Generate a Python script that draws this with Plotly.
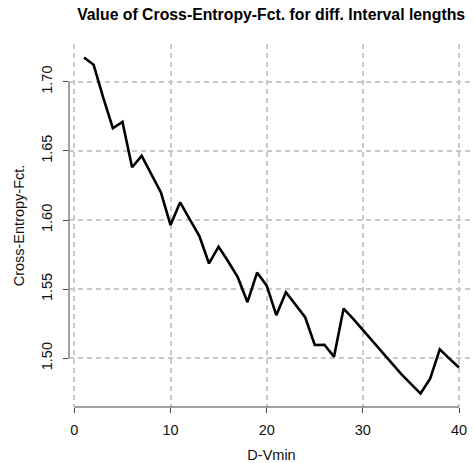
import plotly.graph_objects as go

d_vmin = list(range(1, 41))
cross_entropy = [
    1.7176, 1.7123, 1.6885, 1.6664, 1.6710, 1.6382, 1.6464, 1.6330, 1.6200, 1.5964,
    1.6128, 1.6005, 1.5884, 1.5686, 1.5807, 1.5700, 1.5585, 1.5406, 1.5620, 1.5525,
    1.5312, 1.5478, 1.5390, 1.5297, 1.5096, 1.5098, 1.5012, 1.5360, 1.5285, 1.5205,
    1.5125, 1.5040, 1.4960, 1.4885, 1.4815, 1.4745, 1.4853, 1.5065, 1.4998, 1.4933,
]
x_ticks = [0, 10, 20, 30, 40]
y_ticks = [1.50, 1.55, 1.60, 1.65, 1.70]
y_tick_labels = ["1.50", "1.55", "1.60", "1.65", "1.70"]

FONT = "Liberation Sans, Arial, sans-serif"
AXIS_COL = "#444444"
GRID_COL = "#c8c8c8"

# R-style 4% padding
xmin, xmax = min(d_vmin), max(d_vmin)
ymin, ymax = min(cross_entropy), max(cross_entropy)
xpad = (xmax - xmin) * 0.04
ypad = (ymax - ymin) * 0.04

fig = go.Figure()
fig.add_trace(go.Scatter(
    x=d_vmin, y=cross_entropy, mode="lines",
    line=dict(color="black", width=2.6),
    showlegend=False, hoverinfo="skip",
))

fig.update_layout(
    width=474, height=463,
    margin=dict(l=69, r=0, t=44, b=56),
    paper_bgcolor="white", plot_bgcolor="white",
    font=dict(family=FONT, size=14.5, color="#111111"),
    title=dict(
        text="<b>Value of Cross-Entropy-Fct. for diff. Interval lengths</b>",
        x=0.572, xanchor="center", y=0.968, yanchor="middle",
        font=dict(family=FONT, size=15.8, color="black"),
    ),
    xaxis=dict(
        range=[xmin - xpad, xmax + xpad],
        tickvals=x_ticks, ticktext=[str(v) for v in x_ticks],
        showgrid=True, gridcolor=GRID_COL, gridwidth=2, griddash="5px,4px",
        zeroline=False, showline=False,
        ticks="outside", ticklen=5, tickcolor=AXIS_COL, tickwidth=1,
        ticklabelstandoff=5,
        title=dict(text="D-Vmin", standoff=15, font=dict(size=14.5)),
    ),
    yaxis=dict(
        range=[ymin - ypad, ymax + ypad],
        tickvals=y_ticks, ticktext=y_tick_labels, tickangle=-90,
        showgrid=True, gridcolor=GRID_COL, gridwidth=2, griddash="5px,4px",
        zeroline=False, showline=False,
        ticks="outside", ticklen=5, tickcolor=AXIS_COL, tickwidth=1,
        ticklabelstandoff=5,
        title=dict(text="Cross-Entropy-Fct.", standoff=11, font=dict(size=14.5)),
    ),
    shapes=[
        dict(type="line", xref="x", yref="paper", x0=x_ticks[0], x1=x_ticks[-1], y0=0, y1=0,
             line=dict(color=AXIS_COL, width=1)),
        dict(type="line", xref="paper", yref="y", x0=0, x1=0, y0=y_ticks[0], y1=y_ticks[-1],
             line=dict(color=AXIS_COL, width=1)),
    ],
)

fig.write_html(
    "out.html",
    config={"displayModeBar": False},
    post_script="document.body.style.margin='0';document.body.style.overflow='hidden';",
)
